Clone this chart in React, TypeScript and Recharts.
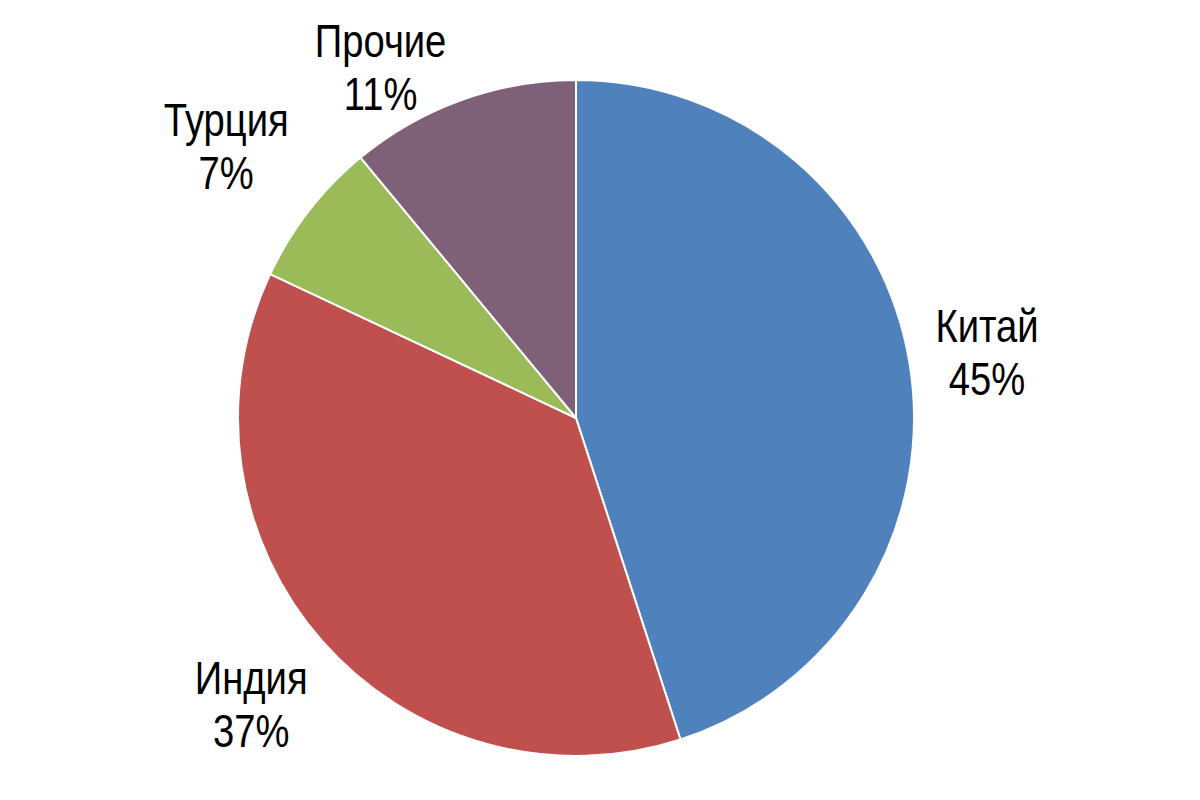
import React from "react";
import { PieChart, Pie, Cell } from "recharts";

const categories = ["Китай", "Индия", "Турция", "Прочие"];
const shares = [45, 37, 7, 11];
const colors = ["#4F81BD", "#C0504D", "#9BBB59", "#7F6079"];

const data = categories.map((name, i) => ({ name, value: shares[i] }));

const FONT = "'Liberation Sans', Arial, sans-serif";
const FS = 46;
const LINE = 53;
const NARROW = 0.83;
const MIN_TOP = 15;

const renderLabel = (props: any) => {
  const { cx, cy, midAngle, outerRadius, name, value } = props;
  const RAD = Math.PI / 180;
  const ux = Math.cos(-midAngle * RAD);
  const uy = Math.sin(-midAngle * RAD);
  const w = String(name).length * 21;
  const h = LINE * 2;
  const dx = Math.abs(ux) > 1e-6 ? w / 2 / Math.abs(ux) : Infinity;
  const dy = Math.abs(uy) > 1e-6 ? h / 2 / Math.abs(uy) : Infinity;
  const d = outerRadius + 25 + Math.min(dx, dy);
  let x = cx + ux * d;
  let y = cy + uy * d;
  if (y - h / 2 < MIN_TOP) {
    // clamp inside the chart, then slide sideways until the lower line clears the pie
    y = MIN_TOP + h / 2;
    const valueText = `${value}%`;
    const halfW2 = (valueText.length * 25.5) / 2;
    const bottomY = y + h / 2 - 9;
    const ry = bottomY - cy;
    const rr = outerRadius + 6;
    const hx = Math.sqrt(Math.max(0, rr * rr - ry * ry));
    x = cx + Math.sign(ux) * (hx + halfW2);
  }
  return (
    <text
      transform={`translate(${x},${y}) scale(${NARROW},1)`}
      textAnchor="middle"
      fill="#000"
      fontFamily={FONT}
      fontSize={FS}
    >
      <tspan x={0} y={-LINE / 2} dominantBaseline="central">{name}</tspan>
      <tspan x={0} y={LINE / 2} dominantBaseline="central">{`${value}%`}</tspan>
    </text>
  );
};

export default function App() {
  return (
    <div style={{ position: "absolute", left: 0, top: 0, width: 1200, height: 800, background: "#fff" }}>
      <PieChart width={1200} height={800} margin={{ top: 0, right: 0, bottom: 0, left: 0 }}>
        <Pie
          data={data}
          dataKey="value"
          nameKey="name"
          cx={576}
          cy={418}
          outerRadius={338}
          startAngle={90}
          endAngle={-270}
          stroke="#fff"
          strokeWidth={2}
          label={renderLabel}
          labelLine={false}
          isAnimationActive={false}
        >
          {data.map((d, i) => (
            <Cell key={d.name} fill={colors[i]} />
          ))}
        </Pie>
      </PieChart>
    </div>
  );
}
